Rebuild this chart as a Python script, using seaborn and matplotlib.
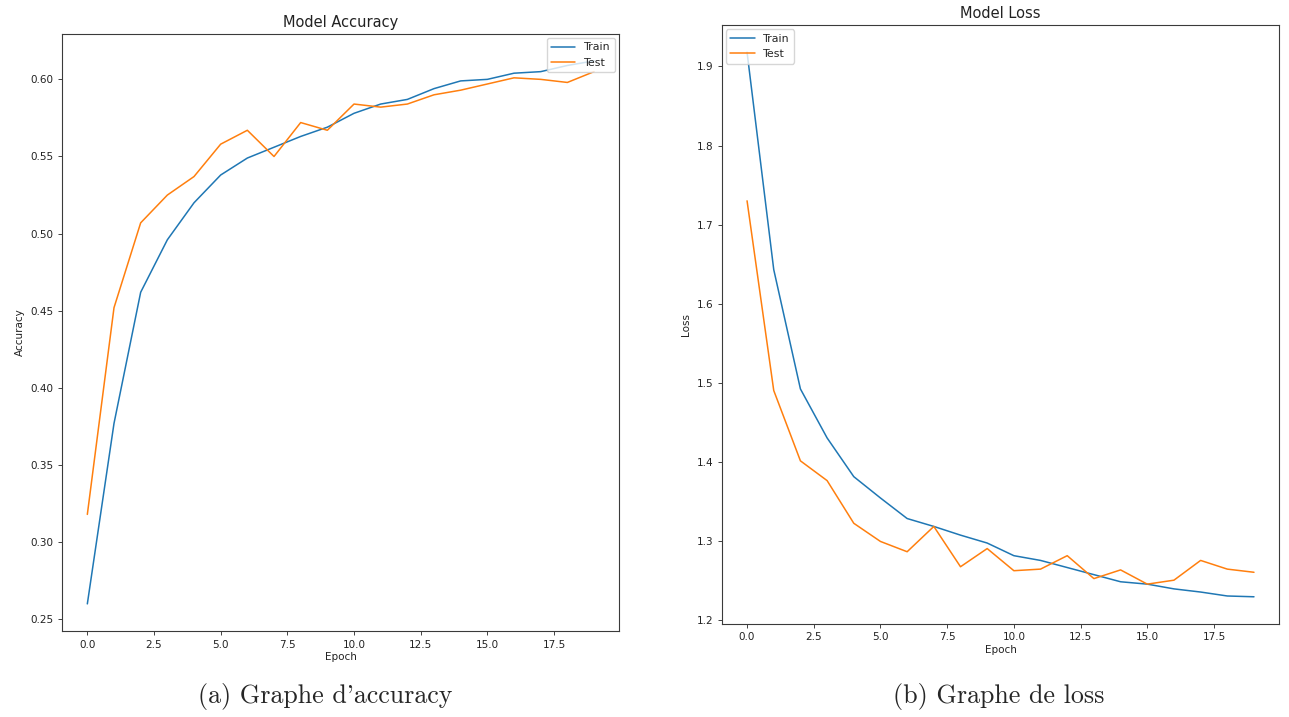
import numpy as np
import pandas as pd
import matplotlib
matplotlib.use("Agg")
import matplotlib.pyplot as plt
import seaborn as sns

# Training history (20 epochs)
epochs = list(range(20))
acc_train = [0.260, 0.377, 0.462, 0.496, 0.520, 0.538, 0.549, 0.556, 0.563, 0.569,
             0.578, 0.584, 0.587, 0.594, 0.599, 0.600, 0.604, 0.605, 0.609, 0.612]
acc_test = [0.318, 0.452, 0.507, 0.525, 0.537, 0.558, 0.567, 0.550, 0.572, 0.567,
            0.584, 0.582, 0.584, 0.590, 0.593, 0.597, 0.601, 0.600, 0.598, 0.605]
loss_train = [1.918, 1.643, 1.492, 1.430, 1.381, 1.354, 1.328, 1.318, 1.307, 1.297,
              1.281, 1.275, 1.266, 1.257, 1.248, 1.245, 1.239, 1.235, 1.230, 1.229]
loss_test = [1.730, 1.490, 1.401, 1.376, 1.322, 1.299, 1.286, 1.318, 1.267, 1.290,
             1.262, 1.264, 1.281, 1.252, 1.263, 1.245, 1.250, 1.275, 1.264, 1.260]
series_names = ["Train", "Test"]
captions = ["(a) Graphe d'accuracy", "(b) Graphe de loss"]

sns.set_theme(style="ticks")
plt.rcParams.update({
    "font.family": ["DejaVu Sans"],
    "axes.edgecolor": "#3a3a3a",
    "axes.linewidth": 0.8,
    "xtick.labelsize": 7.5,
    "ytick.labelsize": 7.5,
    "xtick.major.size": 2.6,
    "ytick.major.size": 2.6,
    "xtick.major.width": 0.6,
    "ytick.major.width": 0.6,
    "xtick.color": "#222222",
    "ytick.color": "#222222",
    "axes.labelsize": 7.5,
    "axes.titlesize": 10.5,
    "legend.fontsize": 7.9,
})

palette = {"Train": "#1f77b4", "Test": "#ff7f0e"}


def long_frame(train, test, name):
    return pd.DataFrame({
        "Epoch": epochs * 2,
        name: list(train) + list(test),
        "Series": [series_names[0]] * len(train) + [series_names[1]] * len(test),
    })


fig = plt.figure(figsize=(12.89, 7.17), dpi=100)
ax_acc = fig.add_axes([0.0481, 0.1199, 0.4324, 0.8331])
ax_loss = fig.add_axes([0.5599, 0.1297, 0.4326, 0.8354])

panels = [
    (ax_acc, long_frame(acc_train, acc_test, "Accuracy"), "Accuracy", "Model Accuracy", "upper right"),
    (ax_loss, long_frame(loss_train, loss_test, "Loss"), "Loss", "Model Loss", "upper left"),
]

for ax, df, ylab, title, loc in panels:
    sns.lineplot(data=df, x="Epoch", y=ylab, hue="Series", palette=palette,
                 linewidth=1.1, ax=ax)
    ax.margins(x=0.05, y=0.05)
    ax.set_title(title, pad=5, color="#222222")
    ax.set_xlabel("Epoch", labelpad=2, color="#222222")
    ax.set_ylabel(ylab, labelpad=4, color="#222222")
    handles, labels = ax.get_legend_handles_labels()
    ax.legend(handles, labels, loc=loc, frameon=True, framealpha=0.8,
              edgecolor="#cccccc", fancybox=True, borderaxespad=0.4,
              handlelength=2.2)
    ax.set_xticks(np.arange(0, 20, 2.5))
    ax.set_xticklabels([f"{v:.1f}" for v in np.arange(0, 20, 2.5)])

ax_acc.set_yticks(np.arange(0.25, 0.601, 0.05))
ax_acc.set_yticklabels([f"{v:.2f}" for v in np.arange(0.25, 0.601, 0.05)])
ax_loss.set_yticks(np.arange(1.2, 1.901, 0.1))
ax_loss.set_yticklabels([f"{v:.1f}" for v in np.arange(1.2, 1.901, 0.1)])

# Sub-figure captions
fig.text(0.2525, 1 - 697 / 717, captions[0], ha="center", va="center",
         fontsize=18.7, family=["cmr10", "DejaVu Serif"])
fig.text(0.7745, 1 - 697 / 717, captions[1], ha="center", va="center",
         fontsize=18.7, family=["cmr10", "DejaVu Serif"])

fig.savefig("out.png", dpi=100, facecolor="white")
